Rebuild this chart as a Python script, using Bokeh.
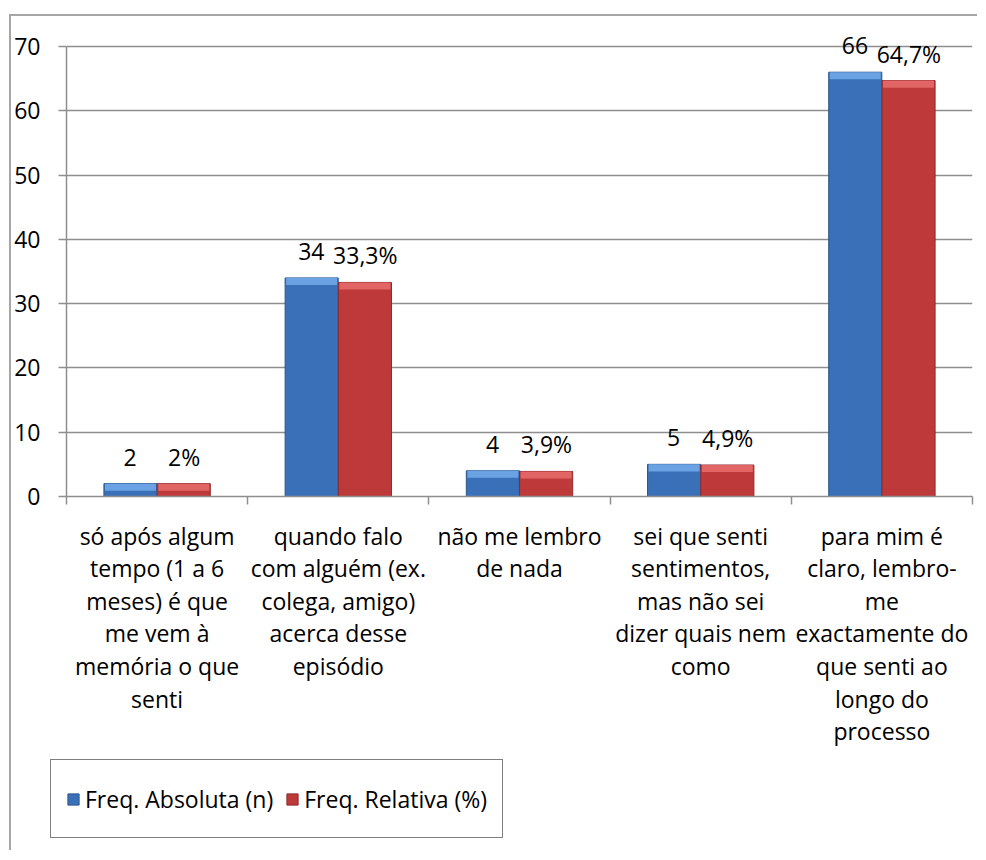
from bokeh.plotting import figure
from bokeh.layouts import column, row
from bokeh.models import ColumnDataSource, FixedTicker, LabelSet, Legend, LegendItem, Range1d
from bokeh.core.properties import value
from bokeh.embed import file_html
from bokeh.resources import INLINE

# ---- data ----
categories = [
    "só após algum\ntempo (1 a 6\nmeses) é que\nme vem à\nmemória o que\nsenti",
    "quando falo\ncom alguém (ex.\ncolega, amigo)\nacerca desse\nepisódio",
    "não me lembro\nde nada",
    "sei que senti\nsentimentos,\nmas não sei\ndizer quais nem\ncomo",
    "para mim é\nclaro, lembro-\nme\nexactamente do\nque senti ao\nlongo do\nprocesso",
]
abs_vals = [2, 34, 4, 5, 66]
rel_vals = [2, 33.3, 3.9, 4.9, 64.7]
abs_labels = ["2", "34", "4", "5", "66"]
rel_labels = ["2%", "33,3%", "3,9%", "4,9%", "64,7%"]
y_ticks = [0, 10, 20, 30, 40, 50, 60, 70]
series_names = ["Freq. Absoluta (n)", "Freq. Relativa (%)"]

FONT = "Open Sans"
FS = "23px"
GRID = "#8e8e8e"
BLUE, BLUE_EDGE, BLUE_CAP = "#3a70b8", "#2a568f", "#6aa2e4"
RED, RED_EDGE, RED_CAP = "#be3a3a", "#8e2a2a", "#e26565"

n = len(categories)
xc = [i + 0.5 for i in range(n)]
off = 0.147
bw = 0.293
cap = 1.1
src = ColumnDataSource(dict(
    xa=[v - off for v in xc], xr=[v + off for v in xc], x=xc,
    a=abs_vals, r=rel_vals, al=abs_labels, rl=rel_labels,
    a_cap=[max(v - cap, 0) for v in abs_vals],
    r_cap=[max(v - cap, 0) for v in rel_vals],
))

y_top = 70 * 472 / 450  # headroom so the top labels are not clipped
p = figure(width=966, height=740, x_range=Range1d(0, n), y_range=Range1d(0, y_top),
           output_backend="svg", toolbar_location=None,
           min_border_left=55, min_border_right=5, min_border_top=8, min_border_bottom=260)
p.outline_line_color = None
p.background_fill_color = "white"
p.border_fill_color = "white"

p.vbar(x="xa", top="a", width=bw, source=src, fill_color=BLUE, line_color=BLUE_EDGE, line_width=1)
p.vbar(x="xr", top="r", width=bw, source=src, fill_color=RED, line_color=RED_EDGE, line_width=1)
p.vbar(x="xa", top="a", bottom="a_cap", width=bw * 0.96, source=src, fill_color=BLUE_CAP, line_color=None)
p.vbar(x="xr", top="r", bottom="r_cap", width=bw * 0.96, source=src, fill_color=RED_CAP, line_color=None)

# axes
xa = p.xaxis[0]
xa.ticker = FixedTicker(ticks=xc, minor_ticks=list(range(n + 1)))
xa.major_label_overrides = {v: c for v, c in zip(xc, categories)}
xa.major_tick_out = 0
xa.major_tick_in = 0
xa.minor_tick_out = 8
xa.minor_tick_in = 0
xa.minor_tick_line_color = GRID
xa.minor_tick_line_width = 1.5
xa.axis_line_color = GRID
xa.axis_line_width = 1.5
xa.major_label_text_font = FONT
xa.major_label_text_font_size = FS
xa.major_label_text_color = "black"
xa.major_label_text_line_height = 1.02
xa.major_label_standoff = 15

ya = p.yaxis[0]
ya.ticker = FixedTicker(ticks=y_ticks)
ya.bounds = (0, 70)
ya.major_tick_out = 8
ya.major_tick_in = 0
ya.major_tick_line_color = GRID
ya.major_tick_line_width = 1.5
ya.minor_tick_line_color = None
ya.axis_line_color = GRID
ya.axis_line_width = 1.5
ya.major_label_text_font = FONT
ya.major_label_text_font_size = FS
ya.major_label_text_color = "black"
ya.major_label_standoff = 18

p.xgrid.visible = False
p.ygrid.grid_line_color = GRID
p.ygrid.grid_line_width = 1.5
p.ygrid.bounds = (0, 70)

# data labels
for col, lab, dx in (("a", "al", -27), ("r", "rl", 27)):
    p.add_layout(LabelSet(x="x", y=col, text=lab, source=src, x_offset=dx, y_offset=18,
                          text_align="center", text_baseline="alphabetic",
                          text_font=value(FONT), text_font_size=value(FS), text_color="black"))

# legend strip (dummy bars sit outside the visible range)
p2 = figure(width=966, height=94, x_range=Range1d(0, 1), y_range=Range1d(0, 1),
            x_axis_type=None, y_axis_type=None, output_backend="svg", toolbar_location=None,
            min_border_left=0, min_border_right=0, min_border_top=0, min_border_bottom=0)
p2.outline_line_color = None
p2.xgrid.visible = False
p2.ygrid.visible = False
p2.background_fill_color = "white"
p2.border_fill_color = "white"
lb = p2.vbar(x=[5], top=[1], width=0.1, fill_color=BLUE, line_color=BLUE_EDGE)
lr = p2.vbar(x=[5], top=[1], width=0.1, fill_color=RED, line_color=RED_EDGE)
legend = Legend(items=[LegendItem(label=series_names[0], renderers=[lb]),
                       LegendItem(label=series_names[1], renderers=[lr])],
                orientation="horizontal", location=(39, 12), margin=0,
                label_text_font=FONT, label_text_font_size=FS, label_text_color="black",
                glyph_width=14, glyph_height=14, label_standoff=5, spacing=12,
                padding=15, label_height=47, border_line_color="black", border_line_width=1,
                background_fill_color="white", background_fill_alpha=1.0)
p2.add_layout(legend, "center")

layout = column(p, row(p2), spacing=0)
layout.margin = (14, 0, 0, 9)
layout.styles = {"border-left": "2px solid #a6a6a6", "border-top": "2px solid #a6a6a6"}

open("out.html", "w").write(file_html(layout, INLINE))
